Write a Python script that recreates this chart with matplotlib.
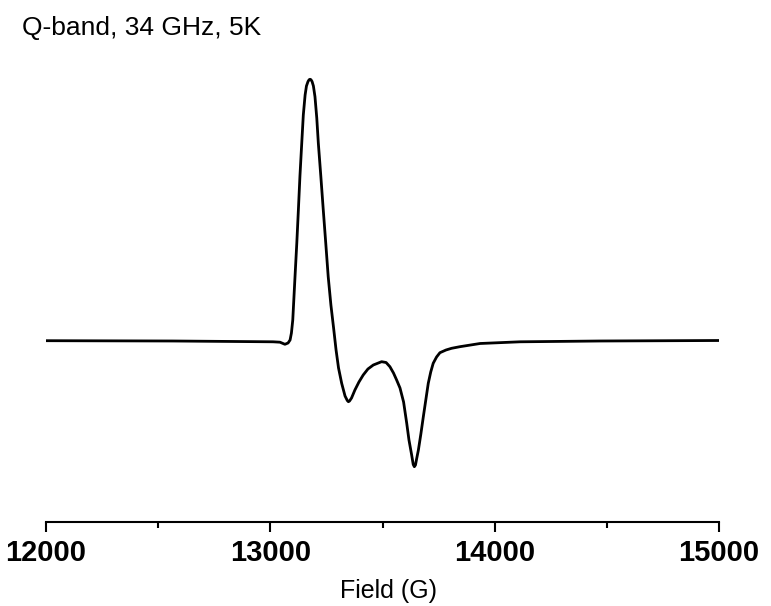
import matplotlib
matplotlib.use("Agg")
import matplotlib.pyplot as plt
from matplotlib.ticker import MultipleLocator

plt.rcParams['font.family'] = ['Liberation Sans', 'DejaVu Sans']

# EPR spectrum (field in G, intensity in arbitrary units)
field = [12000, 12566, 13012, 13043, 13065, 13079, 13088, 13094, 13100, 13110,
         13118, 13125, 13132, 13140, 13147, 13155, 13161, 13168, 13173, 13177,
         13181, 13186, 13192, 13199, 13207, 13214, 13225, 13236, 13247, 13258,
         13270, 13282, 13293, 13304, 13318, 13333, 13343, 13348, 13353, 13362,
         13377, 13395, 13414, 13435, 13459, 13496, 13516, 13533, 13549, 13563,
         13578, 13594, 13608, 13618, 13630, 13637, 13642, 13647, 13652, 13660,
         13671, 13682, 13693, 13704, 13715, 13726, 13741, 13756, 13783, 13808,
         13845, 13935, 14113, 14470, 15000]
signal = [0.3, 0, -0.8, -1.2, -3.3, -2, 1, 8, 21, 64.3,
          98, 131, 165, 197.7, 226, 246, 255, 259.5, 261.3, 261.7,
          261.3, 259.5, 255, 244.3, 223, 197.7, 165, 131, 98, 64.3,
          36, 13, -9, -27, -42.3, -55, -59.5, -60.7, -60, -57,
          -49, -41, -34, -28, -24, -20.7, -21.5, -25.7, -32, -39,
          -47, -61, -82.3, -99, -114, -123.5, -125.7, -124, -118, -109,
          -93, -75.7, -59, -42.3, -31, -22.3, -16, -11.7, -9, -7.3,
          -5.7, -2.5, -0.8, 0, 0.5]

xticks = [12000, 13000, 14000, 15000]
title = "Q-band, 34 GHz, 5K"
xlabel = "Field (G)"

fig = plt.figure(figsize=(7.71, 6.06), dpi=100)
ax = fig.add_axes([46 / 771, 84 / 606, 673 / 771, 462 / 606])

ax.plot(field, signal, color='black', lw=2.0, solid_joinstyle='round')
ax.set_xlim(12000, 15000)
ax.set_ylim(-181, 281)

for s in ['left', 'right', 'top']:
    ax.spines[s].set_visible(False)
ax.spines['bottom'].set_linewidth(1.5)
ax.set_yticks([])

ax.set_xticks(xticks)
ax.xaxis.set_minor_locator(MultipleLocator(500))
ax.tick_params(axis='x', which='major', direction='out', length=7, width=1.5, pad=5,
               labelsize=21)
ax.tick_params(axis='x', which='minor', direction='out', length=4.3, width=1.5)
for lab in ax.get_xticklabels():
    lab.set_fontweight('bold')

fig.text(388 / 771, 8 / 606, xlabel, ha='center', va='baseline', fontsize=18)
fig.text(22 / 771, 1 - 35 / 606, title, ha='left', va='baseline', fontsize=19)

fig.savefig("out.png", dpi=100)
